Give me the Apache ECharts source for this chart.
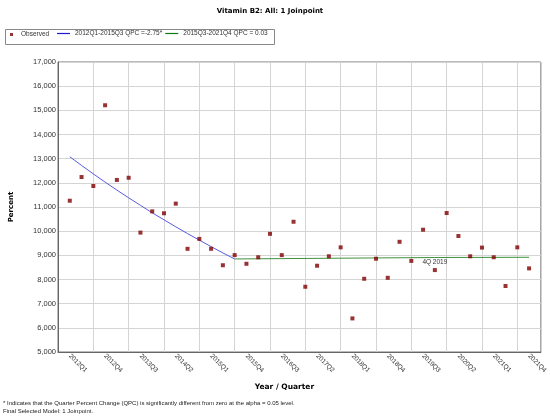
<!DOCTYPE html>
<html>
<head>
<meta charset="utf-8">
<title>Vitamin B2: All: 1 Joinpoint</title>
<script src="https://cdn.jsdelivr.net/npm/echarts@6/dist/echarts.min.js"></script>
<style>
	html, body { margin: 0; padding: 0; background: #fff; }
	#chart { width: 550px; height: 417px; }
</style>
</head>
<body>
<div id="chart"></div>
<script>
// quarters on the x axis
var quarters = [
	'2012Q1','2012Q2','2012Q3','2012Q4','2013Q1','2013Q2','2013Q3','2013Q4',
	'2014Q1','2014Q2','2014Q3','2014Q4','2015Q1','2015Q2','2015Q3','2015Q4',
	'2016Q1','2016Q2','2016Q3','2016Q4','2017Q1','2017Q2','2017Q3','2017Q4',
	'2018Q1','2018Q2','2018Q3','2018Q4','2019Q1','2019Q2','2019Q3','2019Q4',
	'2020Q1','2020Q2','2020Q3','2020Q4','2021Q1','2021Q2','2021Q3','2021Q4'
];
// observed percent
var observed = [
	11.26, 12.24, 11.87, 15.21, 12.12, 12.21, 9.94, 10.82,
	10.74, 11.14, 9.27, 9.68, 9.27, 8.59, 9.01, 8.65,
	8.92, 9.89, 9.01, 10.39, 7.70, 8.57, 8.96, 9.33,
	6.39, 8.03, 8.86, 8.07, 9.56, 8.77, 10.06, 8.39,
	10.75, 9.80, 8.96, 9.32, 8.92, 7.73, 9.33, 8.46
];
// segment 1 fit, 2012Q1 - 2015Q3
var seg1Quarters = quarters.slice(0, 15);
var seg1Values = [13.08, 12.72, 12.37, 12.03, 11.70, 11.38, 11.07, 10.76, 10.47, 10.18, 9.90, 9.63, 9.36, 9.10, 8.85];
// segment 2 fit, 2015Q3 - 2021Q4
var seg2Quarters = ['2015Q3', '2019Q4', '2021Q4'];
var seg2Values = [8.85, 8.91, 8.92];
var yTicks = [5, 17, 1];

var seg1Name = '2012Q1-2015Q3 QPC =-2.75*';
var seg2Name = '2015Q3-2021Q4 QPC = 0.03';

// one empty slot on each side of the data
var axisCats = [''].concat(quarters, ['']);

function pairs(cats, vals) {
	return cats.map(function (c, i) { return [c, vals[i]]; });
}

var sans = 'Liberation Sans';
var bold = 'DejaVu Sans';

var option = {
	animation: false,
	backgroundColor: '#fff',
	title: {
		text: 'Vitamin B2: All: 1 Joinpoint',
		left: 265, top: 3, textAlign: 'center',
		textStyle: { fontFamily: bold, fontSize: 7, fontWeight: 'bold', color: '#000' }
	},
	legend: [{
		data: ['Observed'],
		left: 10, top: 31, padding: 0,
		itemWidth: 3, itemHeight: 3, itemGap: 4,
		textStyle: { fontFamily: sans, fontSize: 6.5, color: '#333', padding: [0, 0, 0, 3] }
	}, {
		data: [
			{ name: seg1Name, icon: 'rect' },
			{ name: seg2Name, icon: 'rect' }
		],
		left: 57, top: 30, padding: 0,
		itemWidth: 13, itemHeight: 1.2, itemGap: 3,
		textStyle: { fontFamily: sans, fontSize: 6.5, color: '#333', padding: [0, 0, 0, 0] }
	}],
	graphic: [{
		type: 'rect', left: 3, top: 27,
		shape: { width: 269, height: 15 },
		style: { fill: 'none', stroke: '#888', lineWidth: 1 }
	}, {
		type: 'text', left: 3, top: 399,
		style: {
			text: '* Indicates that the Quarter Percent Change (QPC) is significantly different from zero at the alpha = 0.05 level.\nFinal Selected Model: 1 Joinpoint.',
			font: '6px "Liberation Sans"', fill: '#222', lineHeight: 8
		}
	}],
	grid: {
		left: 57, right: 8, top: 62, bottom: 65,
		show: true, borderColor: '#777', borderWidth: 1
	},
	xAxis: {
		type: 'category',
		data: axisCats,
		boundaryGap: false,
		name: 'Year / Quarter',
		nameLocation: 'middle',
		nameGap: 31,
		nameTextStyle: { fontFamily: bold, fontSize: 7.5, fontWeight: 'bold', color: '#000', padding: [0, 30, 0, 0] },
		axisLine: { lineStyle: { color: '#666' } },
		axisTick: { show: false },
		axisLabel: {
			interval: function (i) { return i % 3 === 1; },
			rotate: -45, margin: 3,
			fontFamily: sans, fontSize: 6.5, color: '#333'
		},
		splitLine: {
			show: true,
			interval: function (i) { return i % 3 === 0; },
			lineStyle: { color: '#d4d4d4' }
		}
	},
	yAxis: {
		type: 'value',
		min: yTicks[0], max: yTicks[1], interval: yTicks[2],
		name: 'Percent',
		nameLocation: 'middle',
		nameGap: 43,
		nameTextStyle: { fontFamily: bold, fontSize: 7, fontWeight: 'bold', color: '#000' },
		axisLine: { show: true, lineStyle: { color: '#666' } },
		axisTick: { show: false },
		axisLabel: {
			margin: 2,
			fontFamily: sans, fontSize: 7.5, color: '#333',
			formatter: function (v) { return v.toFixed(3).replace('.', ','); }
		},
		splitLine: { lineStyle: { color: '#d4d4d4' } }
	},
	series: [{
		name: 'Observed',
		type: 'scatter',
		symbol: 'rect',
		symbolSize: 4,
		itemStyle: { color: '#800000' },
		data: pairs(quarters, observed),
		z: 5
	}, {
		name: seg1Name,
		type: 'line',
		symbol: 'none',
		lineStyle: { color: '#5a5ade', width: 1 },
		itemStyle: { color: '#1a1ad0' },
		data: pairs(seg1Quarters, seg1Values)
	}, {
		name: seg2Name,
		type: 'line',
		symbol: 'none',
		lineStyle: { color: '#3f913f', width: 1 },
		itemStyle: { color: '#127a12' },
		data: pairs(seg2Quarters, seg2Values),
		markPoint: {
			symbol: 'circle', symbolSize: 1,
			itemStyle: { color: 'rgba(0,0,0,0)' },
			label: {
				show: true, position: 'inside', offset: [0, 5],
				formatter: '4Q 2019',
				fontFamily: sans, fontSize: 6.5, color: '#333'
			},
			data: [{ coord: ['2019Q4', 8.91] }]
		}
	}]
};

var myChart = echarts.init(document.getElementById('chart'));
myChart.setOption(option);
</script>
</body>
</html>
